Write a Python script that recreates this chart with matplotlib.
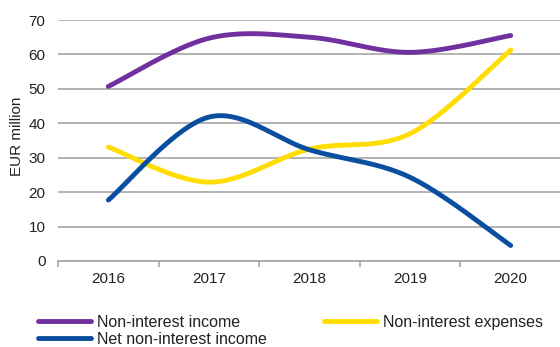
import numpy as np
import matplotlib
matplotlib.use("Agg")
import matplotlib.pyplot as plt
from matplotlib.ticker import FixedLocator

plt.rcParams['font.family'] = ['Liberation Sans', 'DejaVu Sans']

years = ['2016', '2017', '2018', '2019', '2020']
income = [50.7, 64.7, 65.0, 60.6, 65.5]
expenses = [33.1, 22.9, 32.5, 37.0, 61.3]
net = [17.7, 41.8, 32.3, 24.3, 4.5]

series_names = ['Non-interest income', 'Non-interest expenses', 'Net non-interest income']
colors = ['#7030A0', '#FFDD00', '#0A4EA0']


def smooth(y, n=40):
    """Excel-style smoothed line (Catmull-Rom Bezier) through the points."""
    x = np.arange(len(y), dtype=float)
    y = np.asarray(y, dtype=float)
    pts = np.column_stack([x, y])
    ext = np.vstack([pts[0], pts, pts[-1]])
    out = []
    t = np.linspace(0, 1, n)[:, None]
    for i in range(len(pts) - 1):
        p0, p1, p2, p3 = ext[i], ext[i + 1], ext[i + 2], ext[i + 3]
        c1 = p1 + (p2 - p0) / 6
        c2 = p2 - (p3 - p1) / 6
        seg = ((1 - t) ** 3) * p1 + 3 * ((1 - t) ** 2) * t * c1 + 3 * (1 - t) * t ** 2 * c2 + t ** 3 * p2
        out.append(seg if i == 0 else seg[1:])
    arr = np.vstack(out)
    return arr[:, 0], arr[:, 1]


W, H = 560, 347
FS = 11
LFS = 11.5
fig = plt.figure(figsize=(W / 100, H / 100), dpi=100)
ax = fig.add_axes([58 / W, (H - 261) / H, 503 / W, 241 / H])

ax.set_xlim(-0.5, 4.5)
ax.set_ylim(0, 70)
ax.set_yticks(np.arange(0, 71, 10))
ax.yaxis.grid(True, color='#A6A6A6', linewidth=1.2)
ax.set_axisbelow(True)

lines = []
for vals, name, c in zip([income, expenses, net], series_names, colors):
    xs, ys = smooth(vals)
    ln, = ax.plot(xs, ys, color=c, linewidth=3.5, solid_capstyle='round', label=name)
    lines.append(ln)

ax.set_xticks(range(len(years)))
ax.set_xticklabels(years)
ax.xaxis.set_minor_locator(FixedLocator(np.arange(-0.5, 4.6, 1)))
ax.tick_params(axis='x', which='major', length=0, pad=8, labelsize=FS, colors='#222222')
ax.tick_params(axis='x', which='minor', length=4, width=1.2, color='#A6A6A6')
ax.tick_params(axis='y', length=0, pad=9, labelsize=FS, colors='#222222')

for s in ['top', 'right', 'left']:
    ax.spines[s].set_visible(False)
ax.spines['bottom'].set_color('#A6A6A6')
ax.spines['bottom'].set_linewidth(1.2)

fig.text(17 / W, (H - 136) / H, 'EUR million', rotation=90, ha='center', va='center',
         fontsize=FS, color='#222222')

leg = fig.legend([lines[0], lines[2], lines[1]],
                 [series_names[0], series_names[2], series_names[1]],
                 ncol=2, loc='upper left', bbox_to_anchor=(38 / W, (H - 315) / H),
                 frameon=False, fontsize=LFS, handlelength=3.3, handletextpad=0.37,
                 labelspacing=0.12, columnspacing=3.6, borderpad=0, borderaxespad=0)
for t in leg.get_texts():
    t.set_color('#222222')

fig.savefig('out.png', dpi=100)
